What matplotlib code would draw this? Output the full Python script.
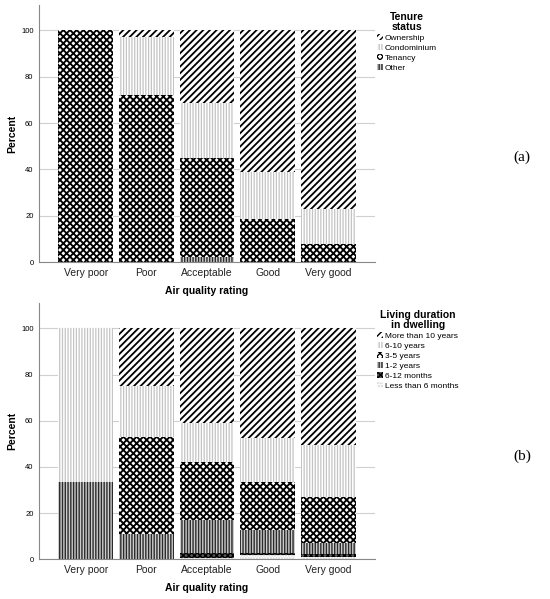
import matplotlib
matplotlib.use('Agg')
import matplotlib.pyplot as plt
import numpy as np

plt.rcParams['font.family'] = ['Liberation Sans', 'DejaVu Sans']
plt.rcParams['hatch.linewidth'] = 1.0

categories = ['Very poor', 'Poor', 'Acceptable', 'Good', 'Very good']

# (a) tenure status, percent, stacked bottom -> top
tenure_labels = ['Ownership', 'Condominium', 'Tenancy', 'Other']
other = [0, 0, 2.3, 0, 0]
tenancy = [100, 72.3, 42.8, 18.5, 7.6]
condominium = [0, 25.1, 23.4, 20.3, 15.2]
ownership = [0, 2.6, 31.5, 61.2, 77.2]

# (b) living duration in dwelling, percent, stacked bottom -> top
duration_labels = ['More than 10 years', '6-10 years', '3-5 years', '1-2 years',
                   '6-12 months', 'Less than 6 months']
less_6m = [0, 0, 0.7, 1.7, 1.1]
m6_12 = [0, 0, 2.2, 0.9, 1.2]
y1_2 = [33.3, 11.1, 13.9, 10.0, 4.8]
y3_5 = [0, 41.9, 25.2, 21.0, 19.8]
y6_10 = [66.7, 22.0, 16.9, 18.9, 22.7]
more_10 = [0, 25.0, 41.1, 47.5, 50.4]

# pattern styles: (facecolor, hatch colour, hatch, hatch linewidth)
st_diag = ('white', 'black', '/////', 1.3)
st_dots = ('white', '#c4c4c4', '||||||', 0.9)
st_check = ('white', 'black', 'xxxxx', 1.35)
st_vert = ('#cccccc', '#2a2a2a', '||||||', 1.0)
st_dcheck = ('#555555', 'black', 'xxxxxx', 1.0)
st_ldots = ('white', '#d0d0d0', '......', 1.0)

fig = plt.figure(figsize=(5.5, 5.99), dpi=100)
ax1 = fig.add_axes([0.071, 0.5626, 0.611, 0.429])
ax2 = fig.add_axes([0.071, 0.0663, 0.611, 0.428])

x = np.arange(len(categories))


def stack(ax, series, styles, labels):
    bottom = np.zeros(len(categories))
    handles = []
    for vals, st, lab in zip(series, styles, labels):
        with plt.rc_context({'hatch.linewidth': st[3]}):
            h = ax.bar(x, vals, width=0.9, bottom=bottom, color=st[0], edgecolor=st[1],
                       hatch=st[2], linewidth=0, label=lab, zorder=2)
        for p in h:
            if hasattr(p, 'set_hatch_linewidth'):
                p.set_hatch_linewidth(st[3])
        handles.append(h)
        bottom = bottom + np.array(vals)
    return handles


def style(ax):
    ax.set_xlim(-0.77, 4.77)
    ax.set_ylim(0, 111)
    ax.set_yticks([0, 20, 40, 60, 80, 100])
    ax.set_xticks(x)
    ax.set_xticklabels(categories, fontsize=7.5, color='#222222')
    ax.tick_params(axis='y', labelsize=5.5, length=0, pad=4)
    ax.tick_params(axis='x', length=0, pad=4)
    ax.grid(axis='y', color='#d0d0d0', linewidth=0.8, zorder=0)
    ax.set_axisbelow(True)
    for s in ['top', 'right']:
        ax.spines[s].set_visible(False)
    for s in ['left', 'bottom']:
        ax.spines[s].set_color('#888888')
        ax.spines[s].set_linewidth(0.8)
    ax.set_ylabel('Percent', fontsize=7.5, fontweight='bold', labelpad=3)
    ax.set_xlabel('Air quality rating', fontsize=7.5, fontweight='bold', labelpad=6)


def legend(ax, handles, labels, title):
    leg = ax.legend(handles[::-1], labels, title=title, frameon=False, fontsize=6,
                    title_fontproperties={'weight': 'bold', 'size': 7.5},
                    loc='upper left', bbox_to_anchor=(0.995, 0.985), handlelength=0.8,
                    handleheight=0.8, handletextpad=0.2, labelspacing=0.24,
                    borderaxespad=0)
    leg.get_title().set_multialignment('center')
    leg.get_title().set_linespacing(0.95)
    return leg


h1 = stack(ax1, [other, tenancy, condominium, ownership],
           [st_vert, st_check, st_dots, st_diag],
           ['Other', 'Tenancy', 'Condominium', 'Ownership'])
style(ax1)
legend(ax1, h1, tenure_labels, 'Tenure\nstatus')

h2 = stack(ax2, [less_6m, m6_12, y1_2, y3_5, y6_10, more_10],
           [st_ldots, st_dcheck, st_vert, st_check, st_dots, st_diag],
           ['Less than 6 months', '6-12 months', '1-2 years', '3-5 years',
            '6-10 years', 'More than 10 years'])
style(ax2)
legend(ax2, h2, duration_labels, 'Living duration\nin dwelling')

fig.text(0.949, 0.738, '(a)', fontsize=11, family=['Liberation Serif', 'DejaVu Serif'],
         ha='center', va='center')
fig.text(0.949, 0.238, '(b)', fontsize=11, family=['Liberation Serif', 'DejaVu Serif'],
         ha='center', va='center')

plt.savefig('out.png', dpi=100)
